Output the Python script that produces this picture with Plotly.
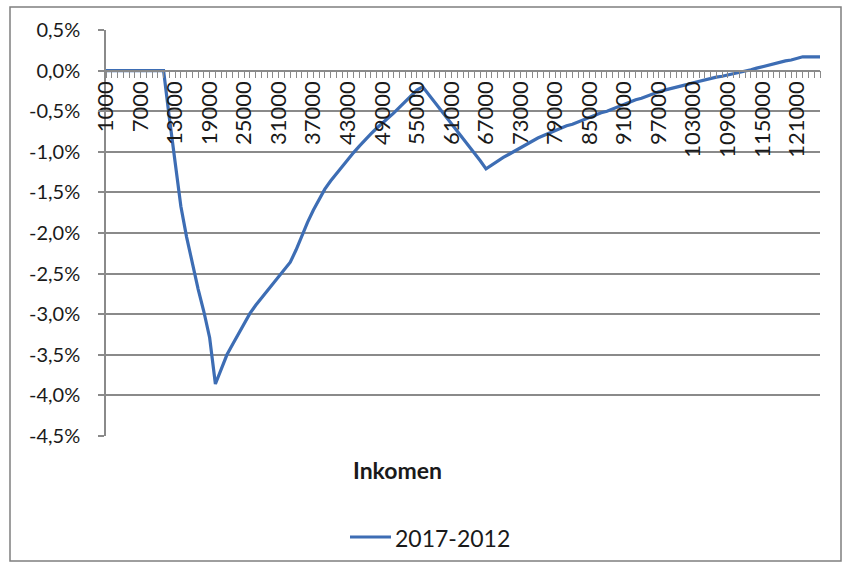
import plotly.graph_objects as go

# Categories: income in euro, steps of 1000
incomes = list(range(1000, 126000, 1000))

# Change 2017 vs 2012, in percent
change_2017_2012 = [
    0, 0, 0, 0, 0, 0, 0, 0, 0, 0, 0,
    -0.58, -1.16, -1.67, -2.05, -2.38, -2.69, -2.97, -3.29, -3.86,
    -3.67, -3.50, -3.37, -3.24, -3.12, -2.99, -2.89, -2.80, -2.71, -2.62,
    -2.53, -2.44, -2.36, -2.21, -2.03, -1.87, -1.72, -1.58, -1.46, -1.36,
    -1.27, -1.18, -1.10, -1.01, -0.93, -0.85, -0.78, -0.71, -0.65, -0.58,
    -0.52, -0.45, -0.38, -0.30, -0.24, -0.20,
    -0.29, -0.38, -0.48, -0.57, -0.66, -0.75, -0.84, -0.93, -1.02, -1.11, -1.21,
    -1.16, -1.11, -1.07, -1.03, -0.99, -0.94, -0.90, -0.87, -0.83, -0.80,
    -0.77, -0.73, -0.71, -0.68, -0.66, -0.63, -0.60, -0.57, -0.55, -0.52,
    -0.50, -0.47, -0.45, -0.41, -0.39, -0.36, -0.34, -0.31, -0.29, -0.26,
    -0.24, -0.22, -0.20, -0.18, -0.17, -0.15, -0.13, -0.11, -0.09, -0.08,
    -0.07, -0.055, -0.04, -0.02, -0.006, 0.01, 0.03, 0.05, 0.06, 0.08,
    0.10, 0.12, 0.13, 0.15, 0.17, 0.17, 0.17, 0.17,
]
assert len(change_2017_2012) == len(incomes)

x_tick_vals = [1000, 7000, 13000, 19000, 25000, 31000, 37000, 43000, 49000,
               55000, 61000, 67000, 73000, 79000, 85000, 91000, 97000,
               103000, 109000, 115000, 121000]
x_tick_text = [str(v) for v in x_tick_vals]

y_tick_vals = [0.5, 0.0, -0.5, -1.0, -1.5, -2.0, -2.5, -3.0, -3.5, -4.0, -4.5]
y_tick_text = ["0,5%", "0,0%", "-0,5%", "-1,0%", "-1,5%", "-2,0%", "-2,5%",
               "-3,0%", "-3,5%", "-4,0%", "-4,5%"]

series_name = "2017-2012"
x_title = "Inkomen"

FONT = "Lato"
GRID = "#8a8a8a"
TXT = "#1a1a1a"
LINE = "#3d6db4"

fig = go.Figure()
fig.add_trace(go.Scatter(
    x=incomes, y=change_2017_2012, mode="lines", name=series_name,
    line=dict(color=LINE, width=3.2), showlegend=False,
))

W, H = 844, 562
L, R, T, B = 106, 24, 30, 126
pw, ph = W - L - R, H - T - B

def px_x(px):
    return (px - L) / pw

def px_y(py):
    return (H - B - py) / ph

fig.update_layout(
    width=W, height=H,
    margin=dict(l=L, r=R, t=T, b=B, autoexpand=False),
    paper_bgcolor="white", plot_bgcolor="white",
    font=dict(family=FONT, size=20, color=TXT),
    showlegend=False,
    xaxis=dict(
        range=[1000, 125000],
        anchor="free", position=0.9,
        automargin=False,
        tickmode="array", tickvals=x_tick_vals, ticktext=x_tick_text,
        tickangle=-90,
        ticks="outside", ticklen=7, tickcolor=GRID, tickwidth=1,
        minor=dict(tickmode="linear", tick0=1000, dtick=1000,
                   ticks="outside", ticklen=7, tickcolor=GRID, tickwidth=1,
                   showgrid=False),
        showline=True, linecolor=GRID, linewidth=1.5,
        showgrid=False, zeroline=False,
        ticklabelstandoff=-6,
        tickfont=dict(family=FONT, size=22, color=TXT),
    ),
    yaxis=dict(
        range=[-4.5, 0.5],
        automargin=False,
        tickmode="array", tickvals=y_tick_vals, ticktext=y_tick_text,
        ticks="outside", ticklen=6, tickcolor=GRID, tickwidth=1.5,
        showline=True, linecolor=GRID, linewidth=1.5,
        showgrid=True, gridcolor=GRID, gridwidth=1.5,
        zeroline=False,
        ticklabelstandoff=14,
        tickfont=dict(family=FONT, size=20, color=TXT),
    ),
    annotations=[
        dict(text="<b>" + x_title + "</b>", xref="paper", yref="paper",
             x=px_x(397), y=px_y(470), xanchor="center", yanchor="middle",
             showarrow=False, font=dict(family=FONT, size=23, color=TXT)),
        dict(text=series_name, xref="paper", yref="paper",
             x=px_x(393), y=px_y(538), xanchor="left", yanchor="middle",
             showarrow=False, font=dict(family=FONT, size=23, color=TXT)),
    ],
    shapes=[
        dict(type="rect", xref="paper", yref="paper",
             x0=px_x(10), x1=px_x(841), y0=px_y(561), y1=px_y(7),
             line=dict(color="#7f7f7f", width=1.5), fillcolor="rgba(0,0,0,0)",
             layer="below"),
        dict(type="line", xref="paper", yref="paper",
             x0=px_x(350), x1=px_x(391), y0=px_y(537), y1=px_y(537),
             line=dict(color=LINE, width=3.2)),
    ],
)

fig.write_html("out.html", config={"displayModeBar": False},
               post_script="document.body.style.margin='0px';")
